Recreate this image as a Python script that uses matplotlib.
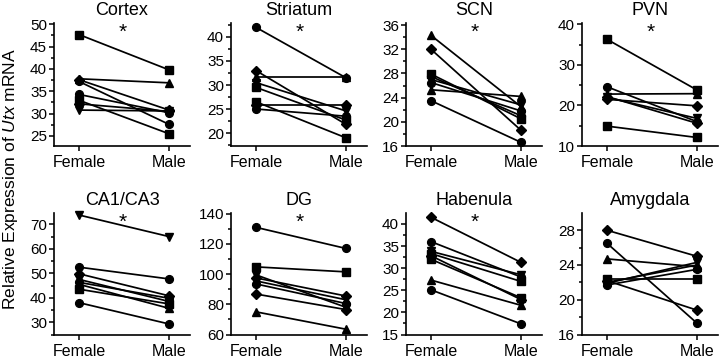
import matplotlib
matplotlib.use("Agg")
import matplotlib.pyplot as plt
from matplotlib.ticker import MultipleLocator

plt.rcParams["font.family"] = ["Liberation Sans", "DejaVu Sans"]
plt.rcParams["mathtext.fontset"] = "custom"
plt.rcParams["mathtext.rm"] = "Liberation Sans"
plt.rcParams["mathtext.it"] = "Liberation Sans:italic"

sexes = ["Female", "Male"]

# values (female, male) per animal
cortex_f = [47.7, 37.8, 37.6, 37.2, 34.3, 33.0, 32.2, 30.8]
cortex_m = [39.8, 36.9, 30.8, 27.6, 30.2, 25.5, 30.5, 30.6]
striatum_f = [42.0, 33.0, 31.7, 30.5, 29.5, 26.5, 25.8, 25.0]
striatum_m = [31.5, 21.8, 31.7, 24.6, 22.7, 19.0, 25.8, 23.5]
scn_f = [34.3, 32.0, 27.9, 27.5, 27.0, 26.5, 25.3, 23.5]
scn_m = [22.5, 18.6, 20.5, 21.0, 22.8, 21.8, 24.2, 16.6]
pvn_f = [36.3, 24.6, 22.8, 22.2, 21.5, 22.0, 14.9]
pvn_m = [23.8, 16.0, 22.9, 15.6, 19.9, 16.8, 12.1]
ca_f = [73.8, 52.5, 49.8, 47.5, 46.3, 45.5, 43.5, 38.0]
ca_m = [65.0, 47.7, 40.8, 38.5, 39.8, 35.7, 37.5, 29.3]
dg_f = [131.0, 104.8, 99.5, 97.5, 95.5, 93.5, 86.8, 75.0]
dg_m = [117.0, 101.5, 78.0, 85.5, 83.0, 80.5, 76.5, 63.5]
hab_f = [41.5, 36.0, 33.8, 33.3, 32.8, 32.0, 27.3, 25.1]
hab_m = [31.3, 28.0, 28.5, 27.0, 22.9, 23.3, 21.6, 17.4]
amy_f = [28.0, 26.5, 24.7, 22.4, 22.2, 21.9, 21.7, 22.0]
amy_m = [25.0, 17.3, 23.8, 22.4, 18.8, 24.3, 23.5, 24.0]

titles = ["Cortex", "Striatum", "SCN", "PVN", "CA1/CA3", "DG", "Habenula", "Amygdala"]
significant = [True, True, True, True, True, True, True, False]
females = [cortex_f, striatum_f, scn_f, pvn_f, ca_f, dg_f, hab_f, amy_f]
males = [cortex_m, striatum_m, scn_m, pvn_m, ca_m, dg_m, hab_m, amy_m]

# styling per panel
markers = [
    ["s", "^", "D", "o", "o", "s", "D", "v"],
    ["o", "D", "^", "v", "s", "s", "D", "o"],
    ["^", "D", "s", "o", "v", "o", "^", "o"],
    ["s", "o", "^", "D", "D", "v", "s"],
    ["v", "o", "D", "v", "o", "^", "s", "o"],
    ["o", "s", "v", "D", "^", "o", "D", "^"],
    ["D", "o", "v", "s", "D", "s", "^", "o"],
    ["D", "o", "^", "s", "D", "v", "o", "^"],
]
ylims = [(22.76, 50.22), (17.3, 42.85), (16, 36.3), (10, 40.25),
         (25.0, 74.5), (60, 140.3), (15, 42.4), (16, 29.95)]
majors = [5, 5, 4, 10, 10, 20, 5, 4]

W, H = 720, 358
lefts = [54, 231, 406, 582]
rows = [(23.3, 146), (213.3, 334.5)]
width = 136

fig = plt.figure(figsize=(7.2, 3.58), dpi=100)

for i, title in enumerate(titles):
    r, c = divmod(i, 4)
    top, bot = rows[r]
    ax = fig.add_axes([lefts[c] / W, 1 - bot / H, width / W, (bot - top) / H])
    for f, m, mk in zip(females[i], males[i], markers[i]):
        ms = 5.0 if mk == "D" else 5.6
        ax.plot([0, 1], [f, m], color="k", lw=1.25, marker=mk, ms=ms,
                clip_on=False, zorder=3)
    ax.set_xlim(-25 / 90, 1 + 21 / 90)
    ax.set_ylim(*ylims[i])
    ax.set_xticks([0, 1])
    ax.set_xticklabels(sexes, fontsize=11.5)
    ax.yaxis.set_major_locator(MultipleLocator(majors[i]))
    ax.yaxis.set_minor_locator(MultipleLocator(majors[i] / 2))
    ax.tick_params(axis="y", labelsize=11, length=3.5, width=1.1, pad=1.5)
    ax.tick_params(axis="y", which="minor", length=2, width=1.1)
    ax.tick_params(axis="x", length=3.5, width=1.1, pad=3)
    for s in ["top", "right"]:
        ax.spines[s].set_visible(False)
    for s in ["left", "bottom"]:
        ax.spines[s].set_linewidth(1.2)
    ax.set_title(title, fontsize=13, pad=6)
    if significant[i]:
        ax.text(0.48, 1.0, "*", transform=ax.get_xaxis_transform(),
                ha="center", va="top", fontsize=15)

fig.text(0.014, 0.5, r"Relative Expression of $\mathit{Utx}$ mRNA",
         rotation=90, ha="center", va="center", fontsize=12.5)

fig.savefig("out.png", dpi=100)
